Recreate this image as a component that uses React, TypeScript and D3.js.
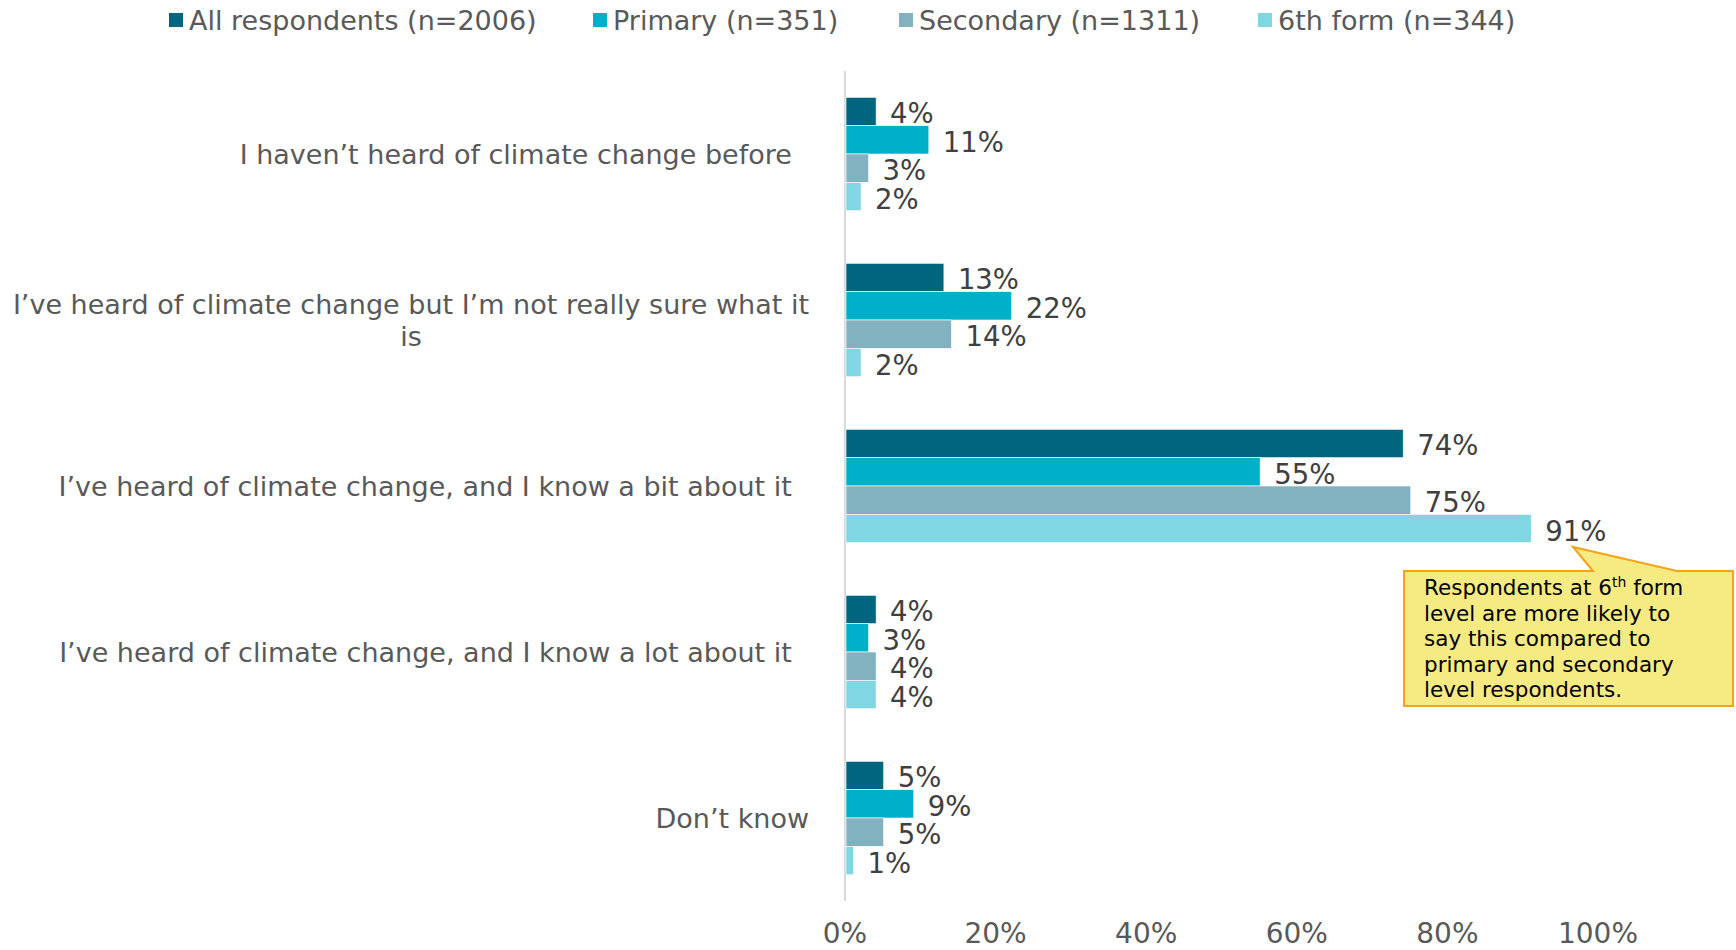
import React, { useEffect, useRef } from "react";
import * as d3 from "d3";

const categories = [
  "I haven\u2019t heard of climate change before\u00a0\u00a0",
  "I\u2019ve heard of climate change but I\u2019m not really sure what it\nis",
  "I\u2019ve heard of climate change, and I know a bit about it\u00a0\u00a0",
  "I\u2019ve heard of climate change, and I know a lot about it\u00a0\u00a0",
  "Don\u2019t know",
];
const seriesNames = [
  "All respondents (n=2006)",
  "Primary (n=351)",
  "Secondary (n=1311)",
  "6th form (n=344)",
];
const allRespondents = [0.04, 0.13, 0.74, 0.04, 0.05];
const primary = [0.11, 0.22, 0.55, 0.03, 0.09];
const secondary = [0.03, 0.14, 0.75, 0.04, 0.05];
const sixthForm = [0.02, 0.02, 0.91, 0.04, 0.01];
const seriesColors = ["#00657e", "#00afc8", "#82b2c0", "#80d7e3"];
const xTicks = [0, 0.2, 0.4, 0.6, 0.8, 1.0];
const calloutLines = [
  ["Respondents at 6", "th", " form"],
  ["level are more likely to"],
  ["say this compared to"],
  ["primary and secondary"],
  ["level respondents."],
];

const W = 1736;
const H = 950;
const FONT = "Verdana, 'DejaVu Sans', sans-serif";

export default function App() {
  const ref = useRef<SVGSVGElement | null>(null);

  useEffect(() => {
    const svg = d3.select(ref.current);
    svg.selectAll("*").remove();

    const values = [allRespondents, primary, secondary, sixthForm];
    const x = d3.scaleLinear().domain([0, 1]).range([845, 1598]);
    const y = d3
      .scaleBand<string>()
      .domain(categories)
      .range([71, 901])
      .paddingInner(0.317)
      .paddingOuter(0.1585);
    const ySub = d3
      .scaleBand<string>()
      .domain(seriesNames)
      .range([0, y.bandwidth()]);

    // legend
    const legendX = [169, 593, 899, 1258];
    const lg = svg.append("g");
    seriesNames.forEach((name, i) => {
      lg.append("rect")
        .attr("x", legendX[i])
        .attr("y", 13)
        .attr("width", 14)
        .attr("height", 14)
        .attr("fill", seriesColors[i]);
      lg.append("text")
        .attr("x", legendX[i] + 20)
        .attr("y", 20)
        .attr("dominant-baseline", "central")
        .attr("font-family", FONT)
        .attr("font-size", 27)
        .attr("fill", "#595959")
        .text(name);
    });

    // axis line
    svg
      .append("line")
      .attr("x1", x(0))
      .attr("x2", x(0))
      .attr("y1", 71)
      .attr("y2", 901)
      .attr("stroke", "#d9d9d9")
      .attr("stroke-width", 2);

    // bars
    categories.forEach((cat, ci) => {
      const g = svg.append("g").attr("transform", `translate(0,${y(cat)})`);
      seriesNames.forEach((s, si) => {
        const v = values[si][ci];
        g.append("rect")
          .attr("x", x(0) + 1)
          .attr("y", ySub(s)!)
          .attr("width", x(v) - x(0))
          .attr("height", ySub.bandwidth())
          .attr("fill", seriesColors[si])
          .attr("stroke", "#ffffff")
          .attr("stroke-width", 0.6);
        g.append("text")
          .attr("x", x(v) + 15)
          .attr("y", ySub(s)! + ySub.bandwidth() / 2 + 2)
          .attr("dominant-baseline", "central")
          .attr("font-family", FONT)
          .attr("font-size", 27.5)
          .attr("fill", "#404040")
          .text(d3.format(".0%")(v));
      });
    });

    // category labels
    const labelRight = 809;
    const lineH = 32;
    categories.forEach((cat) => {
      const lines = cat.split("\n");
      const cy = y(cat)! + y.bandwidth() / 2;
      const g = svg.append("g");
      const t = g
        .append("text")
        .attr("font-family", FONT)
        .attr("font-size", 27)
        .attr("fill", "#595959")
        .attr("text-anchor", "middle")
        .style("white-space", "pre");
      lines.forEach((ln, li) => {
        t.append("tspan")
          .attr("x", 0)
          .attr("y", cy + (li - (lines.length - 1) / 2) * lineH)
          .attr("dominant-baseline", "central")
          .text(ln);
      });
      let maxW = 0;
      t.selectAll<SVGTSpanElement, unknown>("tspan").each(function () {
        maxW = Math.max(maxW, this.getComputedTextLength());
      });
      g.attr("transform", `translate(${labelRight - maxW / 2},0)`);
    });

    // x tick labels
    xTicks.forEach((tk) => {
      svg
        .append("text")
        .attr("x", x(tk))
        .attr("y", 943)
        .attr("text-anchor", "middle")
        .attr("font-family", FONT)
        .attr("font-size", 28)
        .attr("fill", "#595959")
        .text(d3.format(".0%")(tk));
    });

    // callout
    const cg = svg.append("g");
    cg.append("path")
      .attr(
        "d",
        "M1404,571 L1593,571 L1573,547 L1677,571 L1733,571 L1733,706 L1404,706 Z"
      )
      .attr("fill", "#f6eb83")
      .attr("stroke", "#f5a31a")
      .attr("stroke-width", 2)
      .attr("stroke-linejoin", "miter");
    const ct = cg
      .append("text")
      .attr("font-family", FONT)
      .attr("font-size", 21.5)
      .attr("fill", "#000000");
    calloutLines.forEach((parts, li) => {
      const base = 595 + li * 25.5;
      parts.forEach((p, pi) => {
        const ts = ct.append("tspan").text(p);
        if (pi === 0) ts.attr("x", 1424).attr("y", base);
        if (parts.length === 3 && pi === 1) {
          ts.attr("font-size", 14).attr("dy", -8);
        }
        if (parts.length === 3 && pi === 2) {
          ts.attr("dy", 8);
        }
      });
    });
  }, []);

  return (
    <svg
      ref={ref}
      width={W}
      height={H}
      style={{ position: "absolute", left: 0, top: 0, background: "#ffffff" }}
    />
  );
}
